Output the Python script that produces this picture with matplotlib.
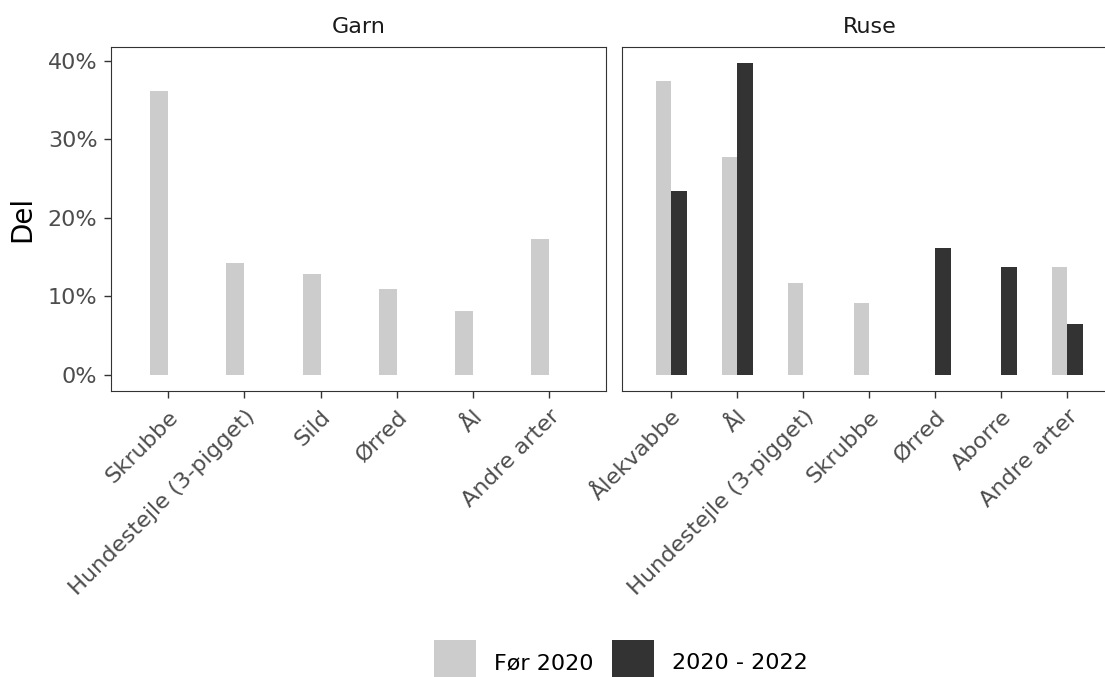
import numpy as np
import matplotlib
matplotlib.use("Agg")
import matplotlib.pyplot as plt
from matplotlib.patches import Rectangle

plt.rcParams['font.family'] = ['DejaVu Sans']
plt.rcParams['savefig.bbox'] = 'standard'

# ---- data ----
garn_species = ["Skrubbe", "Hundestejle (3-pigget)", "Sild", "Ørred", "Ål", "Andre arter"]
garn_for2020 = [36.1, 14.2, 12.9, 11.0, 8.2, 17.3]
garn_2020_2022 = [np.nan, np.nan, np.nan, np.nan, np.nan, np.nan]

ruse_species = ["Ålekvabbe", "Ål", "Hundestejle (3-pigget)", "Skrubbe", "Ørred", "Aborre", "Andre arter"]
ruse_for2020 = [37.4, 27.7, 11.7, 9.2, np.nan, np.nan, 13.8]
ruse_2020_2022 = [23.4, 39.7, np.nan, np.nan, 16.2, 13.8, 6.5]

panels = ["Garn", "Ruse"]
series_labels = ["Før 2020", "2020 - 2022"]
yticks = [0, 10, 20, 30, 40]

# ---- style ----
W, H = 1105, 677
c_light = "#cccccc"
c_dark = "#333333"
series_colors = [c_light, c_dark]
bar_w = 0.235
fs = 16

fig = plt.figure(figsize=(W / 100, H / 100), dpi=100)

def px_axes(left, top, width, height):
    return fig.add_axes([left / W, (H - top - height) / H, width / W, height / H])

panel_w = 494.7
panel_top = 47.3
panel_h = 343.4
unit_w = panel_w / (2 * 0.745 + 6)   # px per category in Ruse panel (same panel width as Garn)
ruse_left = 622.0
ruse_w = W - ruse_left                 # panel is cut off at the right figure edge
ax1 = px_axes(111.3, panel_top, panel_w, panel_h)
ax2 = px_axes(ruse_left, panel_top, ruse_w, panel_h)

data = [
    (ax1, garn_species, garn_for2020, garn_2020_2022),
    (ax2, ruse_species, ruse_for2020, ruse_2020_2022),
]

for i, (ax, species, s1, s2) in enumerate(data):
    x = np.arange(len(species))
    v1 = np.array(s1, dtype=float)
    v2 = np.array(s2, dtype=float)
    m1 = ~np.isnan(v1)
    m2 = ~np.isnan(v2)
    # light bars to the left of the tick, dark bars to the right
    ax.bar(x[m1] - bar_w, v1[m1], width=bar_w, align='edge', color=c_light, linewidth=0)
    ax.bar(x[m2], v2[m2], width=bar_w, align='edge', color=c_dark, linewidth=0)

    if i == 0:
        ax.set_xlim(-0.745, len(species) - 1 + 0.745)
    else:
        ax.set_xlim(-0.745, -0.745 + ruse_w / unit_w)
        ax.spines['right'].set_visible(False)
    ax.set_ylim(-1.985, 41.69)
    ax.set_xticks(x)
    ax.set_xticklabels(species, rotation=45, ha='right', va='top',
                       rotation_mode='anchor', fontsize=16.2, color="#4d4d4d")
    ax.tick_params(axis='x', length=5, width=1.0, color="#333333", pad=6.3)
    ax.set_yticks(yticks)
    if i == 0:
        ax.set_yticklabels([f"{t}%" for t in yticks], fontsize=fs, color="#4d4d4d")
        ax.tick_params(axis='y', length=5, width=1.0, color="#333333", pad=5)
    else:
        ax.tick_params(axis='y', left=False, labelleft=False)
    for sp in ax.spines.values():
        sp.set_color("#333333")
        sp.set_linewidth(0.8)
    ax.grid(False)
    ax.set_facecolor("white")

# strip labels (panel centres)
fig.text((111.3 + panel_w / 2) / W, 1 - 33.3 / H, panels[0],
         ha='center', va='baseline', fontsize=fs, color="#1a1a1a")
fig.text((ruse_left + panel_w / 2) / W, 1 - 33.3 / H, panels[1],
         ha='center', va='baseline', fontsize=fs, color="#1a1a1a")

fig.text(22.7 / W, 1 - 219 / H, "Del", rotation=90, ha='center', va='center',
         fontsize=20, color="black")

# legend (bottom, centred) – keys are cut off by the bottom figure edge
key_x = [434.3, 612.3]
text_x = [494.0, 672.0]
key_size = 41.7
key_top = 640.0
baseline = 669.3
for kx, tx, lab, col in zip(key_x, text_x, series_labels, series_colors):
    fig.add_artist(Rectangle((kx / W, (H - key_top - key_size) / H), key_size / W, key_size / H,
                             transform=fig.transFigure, facecolor=col, edgecolor='none'))
    fig.text(tx / W, 1 - baseline / H, lab, ha='left', va='baseline', fontsize=fs, color="black")

fig.savefig("out.png", dpi=100, facecolor="white")
